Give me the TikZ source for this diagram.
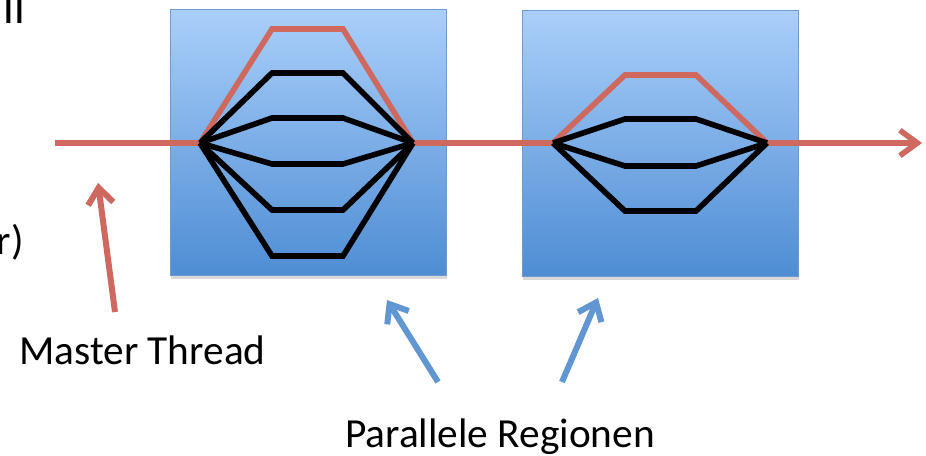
\documentclass[tikz,border=0pt]{standalone}
\usepackage{fontspec}
\setmainfont{Carlito}
\usetikzlibrary{arrows.meta,shadows}

\definecolor{masterred}{RGB}{207,104,95}
\definecolor{regiontop}{RGB}{170,207,250}
\definecolor{regionbot}{RGB}{78,141,212}
\definecolor{regionedge}{RGB}{110,155,210}
\definecolor{pointerblue}{RGB}{96,150,210}

\tikzset{
  region/.style={draw=regionedge, line width=0.6pt, top color=regiontop,
    bottom color=regionbot, minimum width=207pt, minimum height=199pt,
    drop shadow={opacity=0.3, shadow xshift=1pt, shadow yshift=-3pt}},
  master/.style={draw=masterred, line width=4.2pt},
  thread/.style={draw=black, line width=4.2pt},
  pointer/.style={line width=4.5pt, -{Straight Barb[length=12pt,width=19pt]}},
  label/.style={font=\fontsize{31}{37}\selectfont, inner sep=0pt}
}

\begin{document}
\begin{tikzpicture}[x=0.75pt, y=-0.75pt]
  \clip (0,0) rectangle (926,456);
  \fill[white] (0,0) rectangle (926,456);

  \node (region1) at (308,142.5) [region] {};
  \node (region2) at (660,143.5) [region] {};

  \coordinate (start) at (55,143);
  \coordinate (fork1) at (200,143);
  \coordinate (join1) at (413,143);
  \coordinate (fork2) at (553,143);
  \coordinate (join2) at (767,143);
  \coordinate (end)   at (922,143);

  % master thread, with its share of each region
  \draw[master, -{Straight Barb[length=13pt,width=19pt]}] (start) -- (fork1)
  -- (272,29) -- (343,29) -- (join1) -- (fork2)
  -- (625,75) -- (696,75) -- (join2) -- (end);

  \foreach \y in {73,118,164,210,256}
    \draw[thread] (fork1) -- (272,\y) -- (343,\y) -- (join1);
  \foreach \y in {119,166,211}
    \draw[thread] (fork2) -- (625,\y) -- (696,\y) -- (join2);

  \node (frag1) at (25,24)  [label, anchor=base east, font=\fontsize{35}{40}\selectfont] {ll};
  \node (frag2) at (24,255) [label, anchor=base east] {r)};
  \node (master) at (19,365)  [label, anchor=base west] {Master Thread};
  \node (regions) at (345,447) [label, anchor=base west] {Parallele Regionen};

  \coordinate (mtail) at (115,312);
  \coordinate (mtip)  at (98,183);
  \coordinate (rtail1) at (438,382);
  \coordinate (rtip1)  at (387,300);
  \coordinate (rtail2) at (562,382);
  \coordinate (rtip2)  at (598,298);
  \draw[pointer, masterred] (mtail) -- (mtip);
  \draw[pointer, pointerblue] (rtail1) -- (rtip1);
  \draw[pointer, pointerblue] (rtail2) -- (rtip2);
\end{tikzpicture}
\end{document}
